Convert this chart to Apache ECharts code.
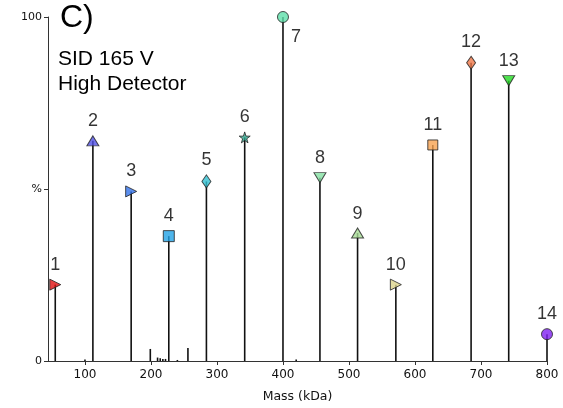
<!DOCTYPE html>
<html>
<head>
<meta charset="utf-8">
<script src="https://cdn.jsdelivr.net/npm/echarts@6/dist/echarts.min.js"></script>
<style>
    html, body { margin: 0; padding: 0; background: #fff; }
    .EC { width: 563px; height: 408px; }
</style>
</head>
<body>
<div class="EC"></div>
<script>
    // 峰：质量 (kDa) 与强度 (%)
    const peakMass = [55, 112, 170, 227, 284, 342, 400, 456, 513, 571, 627, 685, 742, 800]
    const peakIntensity = [22.2, 64, 49.3, 36.3, 52.2, 65, 100, 53.3, 37.2, 22.2, 62.8, 86.7, 81.5, 7.8]
    const peakLabels = ['1', '2', '3', '4', '5', '6', '7', '8', '9', '10', '11', '12', '13', '14']
    // 小噪声峰
    const noiseMass = [100, 199, 210, 214, 218, 222, 240, 256, 420]
    const noiseIntensity = [0.4, 3.5, 1.0, 0.8, 0.6, 0.6, 0.3, 3.8, 0.4]
    const xTicks = [100, 200, 300, 400, 500, 600, 700, 800]

    const star = 'path://M50,0 L61,35 L98,35 L68,57 L79,91 L50,70 L21,91 L32,57 L2,35 L39,35 Z'
    const symbols = ['triangle', 'triangle', 'triangle', 'rect', 'diamond', star, 'circle',
        'triangle', 'triangle', 'triangle', 'rect', 'diamond', 'triangle', 'circle']
    const rotates = [-90, 0, -90, 0, 0, 0, 0, 180, 0, -90, 0, 0, 180, 0]
    const sizes = [[11, 11], [12, 10], [11, 11], [11, 11], [9, 13], [11, 11], [11, 11],
        [12, 10], [12, 10], [11, 11], [10, 10], [9, 13], [12, 10], [11, 11]]
    const colors = ['#e01010', '#5050e6', '#3272ea', '#22a2e6', '#32c0d2', '#2ea88e', '#5ee0aa',
        '#84e0a2', '#a8dc96', '#dcd48c', '#f8a250', '#f07848', '#22d822', '#8020f0']

    window.onload = () => {
        let EC = echarts.init(document.querySelector('.EC'))

        let stems = peakMass.map((m, i) => [m, peakIntensity[i]])
            .concat(noiseMass.map((m, i) => [m, noiseIntensity[i]]))

        let markers = peakMass.map((m, i) => ({
            value: [m, peakIntensity[i]],
            name: peakLabels[i],
            symbol: symbols[i],
            symbolRotate: rotates[i],
            symbolSize: sizes[i],
            itemStyle: { color: colors[i] },
            label: i === 6 ? { position: 'right', offset: [0, 20], distance: 2 } : {}
        }))

        let option = {
            backgroundColor: '#fff',
            animation: false,
            grid: { left: 48, right: 16, top: 17, bottom: 44 },
            xAxis: {
                type: 'value',
                min: 44,
                max: 800,
                name: 'Mass (kDa)',
                nameLocation: 'middle',
                nameGap: 29,
                nameTextStyle: { fontFamily: 'DejaVu Sans', fontSize: 12.5, color: '#111' },
                axisLine: { onZero: false, lineStyle: { color: '#333', width: 1 } },
                axisTick: { show: true, length: 4, customValues: xTicks, lineStyle: { color: '#333' } },
                axisLabel: {
                    customValues: xTicks,
                    fontFamily: 'DejaVu Sans', fontSize: 12, color: '#111', margin: 8
                },
                splitLine: { show: false }
            },
            yAxis: {
                type: 'value',
                min: 0,
                max: 100,
                interval: 50,
                axisLine: { show: true, lineStyle: { color: '#333', width: 1 } },
                axisTick: { show: true, length: 4, lineStyle: { color: '#333' } },
                axisLabel: {
                    fontFamily: 'DejaVu Sans', fontSize: 11, color: '#111', margin: 6,
                    formatter: v => v === 50 ? '%' : String(v)
                },
                splitLine: { show: false }
            },
            // 标题文字
            graphic: [
                { type: 'text', left: 60, top: 2, style: { text: 'C)', font: '32px "Liberation Sans"', fill: '#000' } },
                { type: 'text', left: 58, top: 49, style: { text: 'SID 165 V', font: '21px "Liberation Sans"', fill: '#000' } },
                { type: 'text', left: 58, top: 74, style: { text: 'High Detector', font: '21px "Liberation Sans"', fill: '#000' } }
            ],
            series: [
                {
                    type: 'bar',
                    data: stems,
                    barWidth: 1.6,
                    itemStyle: { color: '#111' },
                    silent: true,
                    z: 2
                },
                {
                    type: 'scatter',
                    data: markers,
                    itemStyle: { borderColor: '#222', borderWidth: 1 },
                    label: {
                        show: true,
                        position: 'top',
                        distance: 5,
                        formatter: p => p.name,
                        fontFamily: 'Liberation Sans',
                        fontSize: 18,
                        color: '#000'
                    },
                    z: 3
                }
            ]
        }

        EC.setOption(option)
    }
</script>
</body>
</html>
